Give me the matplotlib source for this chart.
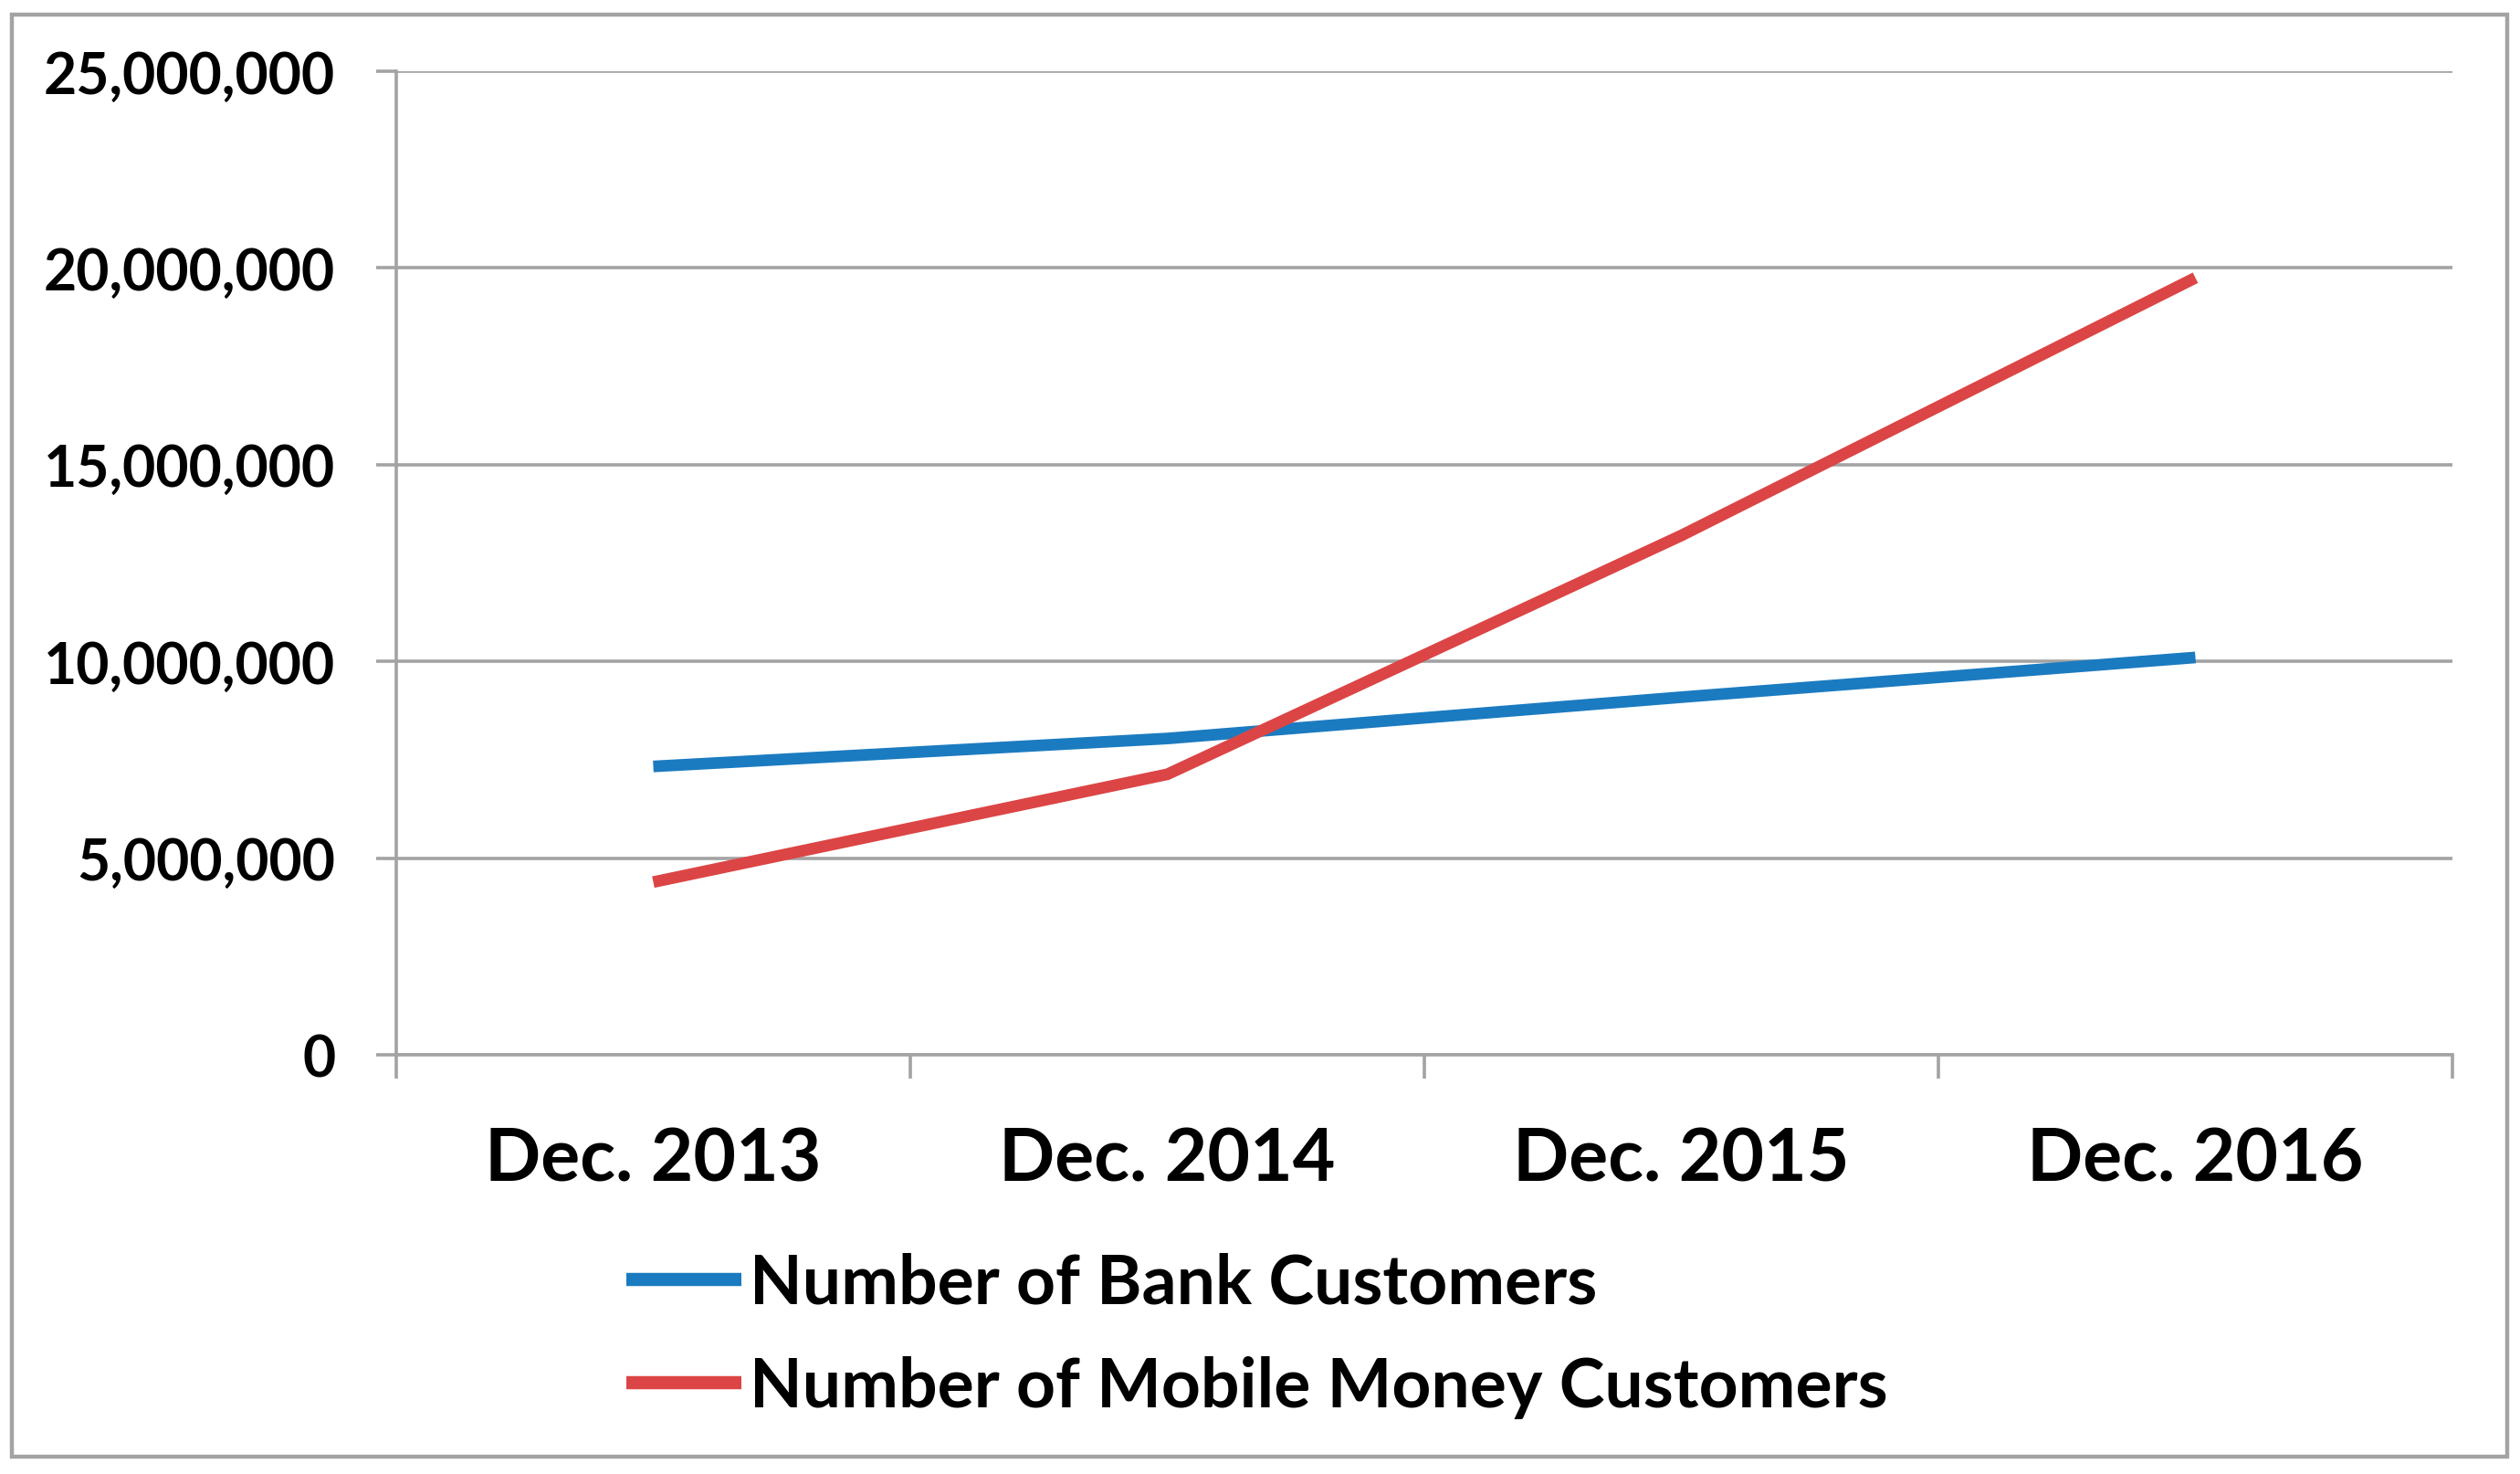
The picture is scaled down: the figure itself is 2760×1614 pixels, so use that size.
import matplotlib
matplotlib.use("Agg")
import matplotlib.pyplot as plt
from matplotlib.patches import Rectangle
from matplotlib.ticker import FuncFormatter, FixedLocator, NullFormatter

categories = ["Dec. 2013", "Dec. 2014", "Dec. 2015", "Dec. 2016"]
bank_customers = [7330000, 8040000, 9090000, 10100000]
mobile_customers = [4390000, 7130000, 13200000, 19750000]
y_ticks = [0, 5000000, 10000000, 15000000, 20000000, 25000000]
series_names = ["Number of Bank Customers", "Number of Mobile Money Customers"]

plt.rcParams['font.family'] = ['Lato', 'DejaVu Sans']
plt.rcParams['font.weight'] = 'bold'

DPI = 200
fig = plt.figure(figsize=(2760 / DPI, 1615 / DPI), dpi=DPI)
fig.patch.set_facecolor('white')

# outer chart frame
fig.patches.append(Rectangle((13 / 2760, 1 - 1596 / 1615), (2746 - 13) / 2760, (1596 - 17) / 1615,
                             transform=fig.transFigure, fill=False, edgecolor='#a3a3a3',
                             linewidth=1.6, zorder=0))

ax = fig.add_axes([434 / 2760, 1 - 1156 / 1615, (2686 - 434) / 2760, (1156 - 79) / 1615])

grid_color = '#a3a3a3'
x = list(range(len(categories)))
ax.plot(x, bank_customers, color='#1B7BC0', linewidth=4.6, solid_capstyle='butt',
        label=series_names[0], zorder=3)
ax.plot(x, mobile_customers, color='#DC4545', linewidth=4.6, solid_capstyle='butt',
        label=series_names[1], zorder=4)

ax.set_xlim(-0.5, len(categories) - 0.5)
ax.set_ylim(y_ticks[0], y_ticks[-1])
ax.set_yticks(y_ticks)
ax.yaxis.set_major_formatter(FuncFormatter(lambda v, p: f"{int(v):,}"))
ax.yaxis.grid(True, color=grid_color, linewidth=1.3)
ax.set_axisbelow(True)

# category boundary ticks (major) and category labels (minor)
ax.xaxis.set_major_locator(FixedLocator([i - 0.5 for i in range(len(categories) + 1)]))
ax.xaxis.set_major_formatter(NullFormatter())
ax.xaxis.set_minor_locator(FixedLocator(x))
ax.set_xticklabels(categories, minor=True)

for s in ['top', 'right']:
    ax.spines[s].set_visible(False)
for s in ['left', 'bottom']:
    ax.spines[s].set_color(grid_color)
    ax.spines[s].set_linewidth(1.3)

ax.tick_params(axis='y', which='major', length=8, width=1.3, color=grid_color,
               labelsize=22.5, pad=16, labelcolor='black')
ax.tick_params(axis='x', which='major', length=9.5, width=1.3, color=grid_color)
ax.tick_params(axis='x', which='minor', length=0, labelsize=29, pad=28, labelcolor='black')
for lab in ax.get_yticklabels() + ax.get_xticklabels(minor=True):
    lab.set_fontweight('bold')

leg = fig.legend(loc='center left', bbox_to_anchor=(686 / 2760, 1 - 1463 / 1615),
                 frameon=False, handlelength=1.68, handletextpad=0.12,
                 borderpad=0, borderaxespad=0, labelspacing=0.59,
                 prop={'weight': 'bold', 'size': 27})
for line in leg.get_lines():
    line.set_linewidth(5.2)

fig.savefig("out.png", dpi=DPI, facecolor='white')
